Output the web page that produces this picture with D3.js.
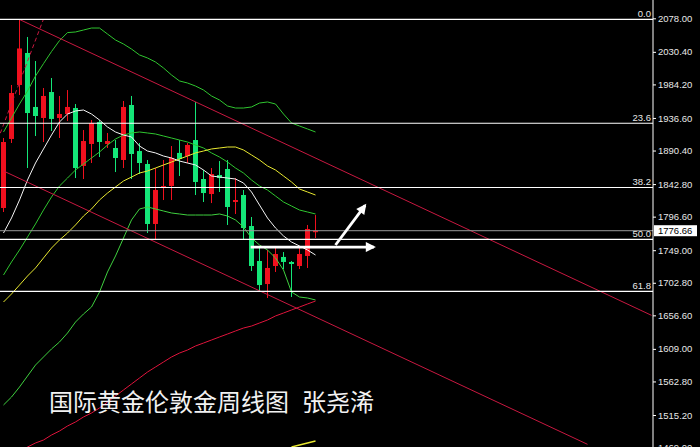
<!DOCTYPE html>
<html><head><meta charset="utf-8">
<script src="https://cdn.jsdelivr.net/npm/d3@7"></script>
<style>html,body{margin:0;padding:0;background:#000;overflow:hidden}</style>
</head><body><svg id="c" width="700" height="447"></svg>
<script>
// ---- data (weekly XAUUSD candles) ----
const opens  = [1808.9,1906.8,1983.4,2028.8,1952.2,1936.6,1973.4,1936.6,1942.2,1950.7,1868.5,1899.7,1930.9,1899.7,1894.0,1877.0,1955.0,1889.7,1871.3,1786.2,1837.2,1840.1,1887.0,1882.6,1905.3,1850.0,1828.7,1855.7,1864.2,1817.4,1827.3,1783.3,1733.7,1701.0,1726.6,1739.4,1732.3,1726.6,1740.8,1774.8];
const highs  = [1908.2,1983.4,2077.0,2051.5,2017.4,1979.1,1993.3,1967.8,1976.2,1956.4,1919.5,1933.7,1933.7,1915.3,1905.3,1960.7,1967.8,1901.1,1877.0,1865.6,1877.0,1896.8,1905.3,1901.1,1959.3,1862.8,1865.6,1875.5,1877.0,1851.4,1834.4,1796.1,1753.6,1749.3,1754.9,1746.4,1733.7,1754.9,1784.8,1798.9];
const lows   = [1803.2,1901.1,1969.2,1865.6,1911.0,1902.5,1918.1,1908.2,1932.3,1851.4,1850.0,1872.7,1881.2,1894.0,1859.9,1865.6,1850.0,1857.1,1773.4,1764.9,1820.2,1820.2,1854.3,1872.7,1827.3,1817.4,1815.9,1831.6,1784.8,1800.4,1763.5,1719.5,1689.7,1681.2,1718.1,1722.3,1682.6,1722.3,1723.8,1766.3];
const closes = [1902.5,1972.0,2035.2,1943.6,1939.4,1967.8,1935.2,1942.2,1952.2,1865.6,1903.9,1929.5,1902.5,1903.9,1879.8,1952.2,1885.5,1872.7,1786.2,1834.4,1840.1,1879.8,1878.4,1898.3,1845.8,1830.1,1857.1,1851.4,1810.3,1820.2,1780.5,1726.6,1699.6,1723.8,1743.6,1732.3,1729.4,1743.6,1779.1,1776.66];

// moving averages / bands, one value per candle
const maWhite  = [1773.4,1794.7,1820.2,1848.6,1872.7,1892.6,1912.4,1930.9,1942.2,1946.5,1947.9,1942.2,1933.7,1923.8,1916.7,1912.4,1909.6,1896.8,1889.7,1887.0,1882.6,1879.8,1875.5,1872.7,1869.9,1862.8,1854.3,1852.8,1851.4,1850.0,1844.3,1831.6,1813.1,1794.7,1780.5,1769.2,1760.6,1755.0,1749.3,1742.2];
const maYellow = [1675.5,1686.9,1699.6,1712.4,1723.8,1738.0,1752.1,1763.5,1773.4,1784.8,1797.5,1807.5,1820.2,1830.1,1838.7,1847.2,1852.8,1858.5,1861.4,1865.6,1869.9,1874.1,1878.4,1882.6,1887.0,1889.7,1892.6,1894.0,1895.4,1895.4,1891.2,1884.1,1877.0,1868.5,1862.8,1854.3,1845.8,1835.8,1831.6,1827.3];
const bbUpper  = [1916.7,1936.6,1956.4,1974.9,1996.1,2013.7,2030.8,2046.4,2057.7,2058.6,2061.4,2064.2,2064.2,2055.7,2047.2,2041.5,2034.4,2026.0,2021.7,2016.0,2007.5,1997.6,1989.1,1986.2,1981.9,1976.3,1967.8,1962.1,1953.6,1950.7,1950.7,1952.2,1957.8,1959.3,1956.4,1942.2,1929.5,1925.2,1921.0,1916.7];
const bbMid    = [1713.8,1732.3,1749.3,1767.7,1786.2,1806.0,1824.5,1840.1,1851.4,1862.8,1871.3,1879.8,1888.3,1898.2,1906.8,1912.4,1915.3,1916.7,1915.3,1913.9,1911.0,1908.2,1905.3,1902.5,1898.2,1894.0,1887.0,1881.2,1874.1,1865.6,1858.5,1848.6,1840.1,1834.4,1825.9,1817.4,1811.7,1806.0,1803.2,1800.4];
const bbLower  = [1529.4,1540.7,1554.9,1570.5,1586.1,1597.5,1608.9,1618.8,1631.5,1647.1,1658.5,1668.4,1689.7,1718.1,1740.8,1766.3,1791.9,1807.5,1810.3,1807.5,1804.6,1801.8,1800.4,1798.9,1798.9,1798.9,1798.9,1800.4,1797.5,1791.9,1781.9,1766.3,1756.4,1749.3,1738.0,1720.9,1689.7,1682.6,1681.2,1678.4];
const maRed    = [null,null,1462.7,1469.8,1475.5,1479.7,1486.8,1492.5,1499.6,1505.3,1512.4,1518.0,1525.2,1533.6,1542.2,1550.7,1559.2,1567.7,1576.2,1583.3,1590.4,1597.5,1603.1,1607.4,1613.1,1617.3,1621.6,1625.9,1630.1,1634.4,1638.6,1641.4,1645.7,1650.0,1655.7,1659.9,1664.2,1668.4,1672.7,1676.9];
const maYellowLong = [null,null,null,null,null,null,null,null,null,null,null,null,null,null,null,null,null,null,null,null,null,null,null,null,null,null,null,null,null,null,null,null,null,null,null,null,1469.8,1472.6,1475.5,1478.3];

// price axis tick labels
const tickLabels = ["2078.00","2030.40","1984.20","1936.60","1890.40","1842.80","1796.60","1749.00","1702.80","1656.60","1609.00","1562.80","1515.20","1469.00"];
const lastPrice = 1776.66;

// fibonacci retracement (high -> low)
const fibHigh = 2076.5, fibLow = 1452.0;
const fibLevels = [0, 0.236, 0.382, 0.5, 0.618];
const fibNames  = ["0.0","23.6","38.2","50.0","61.8"];

// trend lines as [index, price] anchors
const channelTop    = [[2, 2076.3], [81, 1656.6]];
const channelBottom = [[0, 1861.4], [73, 1473.6]];
const dashedLine    = [[-0.4, 1915.0], [5, 2077.0]];
// arrows [index, price]
const arrowFlat = [[30.9, 1753.5], [46.3, 1753.5]];
const arrowUp   = [[41.5, 1756.4], [45.2, 1812.5]];

const titleMain = "国际黄金伦敦金周线图";
const titleAuthor = "张尧浠";

// ---- drawing ----
const svg = d3.select("#c");
svg.append("rect").attr("width",700).attr("height",447).attr("fill","#000");
const plotRight = 653;
const x = d3.scaleLinear().domain([0, 81]).range([3.5, 651.5]);
const y = d3.scaleLinear().domain([2078, 1515.2]).range([18.3, 415]);

const candles = opens.map((o,i)=>({i, o, h:highs[i], l:lows[i], c:closes[i]}));
const up = "#f0101e", down = "#14e678";
const cg = svg.append("g");
cg.selectAll("rect.w").data(candles).join("rect")
  .attr("x", d=>x(d.i)-0.5).attr("width",1)
  .attr("y", d=>y(d.h)).attr("height", d=>Math.max(1,y(d.l)-y(d.h)))
  .attr("fill", d=>d.c>=d.o?up:down);
cg.selectAll("rect.b").data(candles).join("rect")
  .attr("x", d=>x(d.i)-2.5).attr("width",5)
  .attr("y", d=>y(Math.max(d.o,d.c)))
  .attr("height", d=>Math.max(1.5, Math.abs(y(d.o)-y(d.c))))
  .attr("fill", d=>d.c>=d.o?up:down);

function series(vals, color, w){
  const line = d3.line().defined(d=>d!=null).x((d,i)=>x(i)).y(d=>y(d)).curve(d3.curveLinear);
  svg.append("path").attr("d", line(vals)).attr("fill","none")
    .attr("stroke", color).attr("stroke-width", w||1);
}
series(bbUpper, "#2fc42f");
series(bbMid, "#2fc42f");
series(bbLower, "#3fd03f");
series(maYellow, "#e8e830");
series(maYellowLong, "#e8e830", 1.4);
series(maWhite, "#f4f4f4");
series(maRed, "#e0143c");

function seg(pts, color, w, dash){
  const l = svg.append("line")
    .attr("x1", x(pts[0][0])).attr("y1", y(pts[0][1]))
    .attr("x2", x(pts[1][0])).attr("y2", y(pts[1][1]))
    .attr("stroke", color).attr("stroke-width", w||1);
  if (dash) l.attr("stroke-dasharray", dash);
}
seg(channelTop, "#c81840");
seg(channelBottom, "#c81840");
seg(dashedLine, "#c81840", 1, "4,3");

// current price line
svg.append("line").attr("x1",0).attr("x2",plotRight).attr("y1",y(lastPrice)).attr("y2",y(lastPrice))
  .attr("stroke","#9a9a9a").attr("stroke-width",1);

// fib lines
const fg = svg.append("g");
fibLevels.forEach((f,k)=>{
  const p = fibHigh - f*(fibHigh-fibLow);
  fg.append("line").attr("x1",0).attr("x2",plotRight).attr("y1",y(p)).attr("y2",y(p))
    .attr("stroke","#ffffff").attr("stroke-width",1.2);
  fg.append("text").attr("x",651).attr("y",y(p)-2.5).attr("text-anchor","end")
    .attr("font-family","Liberation Sans, Arial, sans-serif").attr("font-size",9.5)
    .attr("fill","#e8e8e8").text(fibNames[k]);
});

// arrows
const defs = svg.append("defs");
defs.append("marker").attr("id","ah").attr("viewBox","0 0 10 10").attr("refX",8).attr("refY",5)
  .attr("markerWidth",4).attr("markerHeight",3.6).attr("orient","auto")
  .append("path").attr("d","M0,0 L10,5 L0,10 Z").attr("fill","#fff");
[arrowFlat, arrowUp].forEach(a=>{
  svg.append("line")
    .attr("x1", x(a[0][0])).attr("y1", y(a[0][1]))
    .attr("x2", x(a[1][0])).attr("y2", y(a[1][1]))
    .attr("stroke","#fff").attr("stroke-width",2.8).attr("marker-end","url(#ah)");
});

// title
const tt = svg.append("text").attr("x",49).attr("y",411).attr("font-family","Noto Sans CJK SC")
  .attr("font-size",24).attr("fill","#f2f2f2");
tt.append("tspan").text(titleMain);
tt.append("tspan").attr("x",302).text(titleAuthor);

// right axis
svg.append("rect").attr("x",plotRight+0.5).attr("y",0).attr("width",50).attr("height",447).attr("fill","#000");
const axis = d3.axisRight(y).tickValues(tickLabels.map(Number)).tickFormat(d=>d.toFixed(2))
  .tickSize(3).tickPadding(2);
const ag = svg.append("g").attr("transform",`translate(${plotRight},0)`).call(axis);
ag.select(".domain").remove();
ag.selectAll(".tick line").attr("stroke","#fff");
ag.selectAll(".tick text").attr("fill","#e8e8e8").attr("font-family","Liberation Sans, Arial, sans-serif").attr("font-size",9.5);
svg.append("line").attr("x1",plotRight).attr("x2",plotRight).attr("y1",0).attr("y2",447)
  .attr("stroke","#fff").attr("stroke-width",1);
// last price box
const lp = y(lastPrice);
svg.append("rect").attr("x",plotRight+1).attr("y",lp-5.5).attr("width",43).attr("height",11).attr("fill","#fff");
svg.append("text").attr("x",plotRight+5).attr("y",lp).attr("dy","0.34em")
  .attr("font-family","Liberation Sans, Arial, sans-serif").attr("font-size",9.5).attr("fill","#000")
  .text(lastPrice.toFixed(2));
</script></body></html>
